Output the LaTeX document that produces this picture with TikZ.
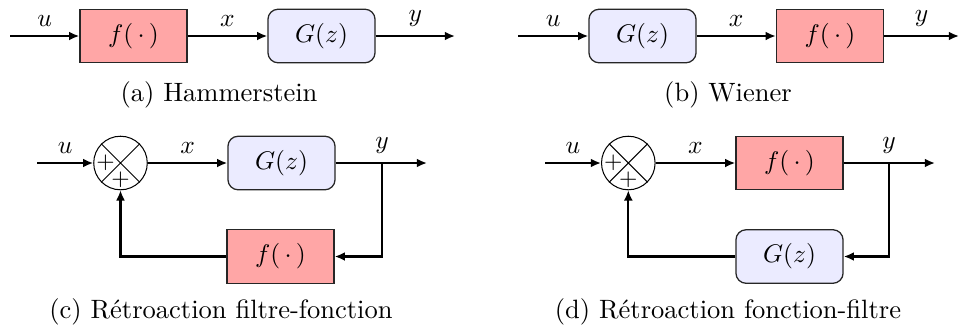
\documentclass[tikz,border=0pt]{standalone}
\usepackage{tikz}
\usetikzlibrary{arrows.meta, positioning, shapes.geometric}

\newcommand{\capfont}{\fontsize{10.4}{12.5}\selectfont}

\begin{document}
\begin{tikzpicture}[
    x=0.392pt, y=0.392pt,
    box/.style={rectangle, draw=black!85, line width=0.5pt,
                minimum width=42pt, minimum height=21pt, inner sep=0pt},
    nonlin/.style={box, fill=red!35},
    filt/.style={box, rounded corners=4pt, fill=blue!8},
    sum/.style={circle, draw, line width=0.4pt, minimum size=21pt, inner sep=0pt},
    sgn/.style={inner sep=0pt, font=\small},
    arr/.style={-{Latex[length=4pt, width=3.5pt]}, thick},
    subcap/.style={font=\capfont},
  ]
    \useasboundingbox (0,0) rectangle (960,-333);

    % (a) Hammerstein
    \coordinate (a-in) at (10,-36);
    \node[nonlin] (a-f) at (133.5,-36) {$f(\,\cdot\,)$};
    \node[filt]   (a-g) at (321.5,-36) {$G(z)$};
    \coordinate (a-out) at (455,-36);
    \draw[arr] (a-in) -- node[above]{$u$} (a-f);
    \draw[arr] (a-f)  -- node[above]{$x$} (a-g);
    \draw[arr] (a-g)  -- node[above]{$y$} (a-out);
    \node[subcap] (a-cap) at (219,-95) {(a) Hammerstein};

    % (b) Wiener
    \coordinate (b-in) at (518,-36);
    \node[filt]   (b-g) at (642.5,-36) {$G(z)$};
    \node[nonlin] (b-f) at (830,-36) {$f(\,\cdot\,)$};
    \coordinate (b-out) at (959,-36);
    \draw[arr] (b-in) -- node[above]{$u$} (b-g);
    \draw[arr] (b-g)  -- node[above]{$x$} (b-f);
    \draw[arr] (b-f)  -- node[above]{$y$} (b-out);
    \node[subcap] (b-cap) at (728,-95) {(b) Wiener};

    % (c) filtre-fonction
    \coordinate (c-in) at (37,-163);
    \node[sum]    (c-sum) at (120.5,-163) {};
    \node[filt]   (c-g) at (281.5,-163) {$G(z)$};
    \node[nonlin] (c-f) at (280.5,-256.5) {$f(\,\cdot\,)$};
    \coordinate (c-br)  at (382,-163);
    \coordinate (c-out) at (427,-163);
    \draw[line width=0.4pt] (c-sum.north west) -- (c-sum.south east)
                            (c-sum.north east) -- (c-sum.south west);
    \node[sgn] (c-p1) at ([xshift=-5.9pt]c-sum.center) {$+$};
    \node[sgn] (c-p2) at ([yshift=-6.7pt]c-sum.center) {$+$};
    \draw[arr] (c-in)  -- node[above]{$u$} (c-sum);
    \draw[arr] (c-sum) -- node[above]{$x$} (c-g);
    \draw[arr] (c-g) -- (c-br) node[above]{$y$} -- (c-out);
    \draw[arr] (c-br) |- (c-f);
    \draw[arr] (c-f) -| (c-sum);
    \node[subcap] (c-cap) at (221,-312) {(c) Rétroaction filtre-fonction};

    % (d) fonction-filtre
    \coordinate (d-in) at (545,-163);
    \node[sum]    (d-sum) at (628.3,-163) {};
    \node[nonlin] (d-f) at (789.5,-163) {$f(\,\cdot\,)$};
    \node[filt]   (d-g) at (789.5,-256.5) {$G(z)$};
    \coordinate (d-br)  at (889,-163);
    \coordinate (d-out) at (935,-163);
    \draw[line width=0.4pt] (d-sum.north west) -- (d-sum.south east)
                            (d-sum.north east) -- (d-sum.south west);
    \node[sgn] (d-p1) at ([xshift=-5.9pt]d-sum.center) {$+$};
    \node[sgn] (d-p2) at ([yshift=-6.7pt]d-sum.center) {$+$};
    \draw[arr] (d-in)  -- node[above]{$u$} (d-sum);
    \draw[arr] (d-sum) -- node[above]{$x$} (d-f);
    \draw[arr] (d-f) -- (d-br) node[above]{$y$} -- (d-out);
    \draw[arr] (d-br) |- (d-g);
    \draw[arr] (d-g) -| (d-sum);
    \node[subcap] (d-cap) at (728,-312) {(d) Rétroaction fonction-filtre};
  \end{tikzpicture}
\end{document}
